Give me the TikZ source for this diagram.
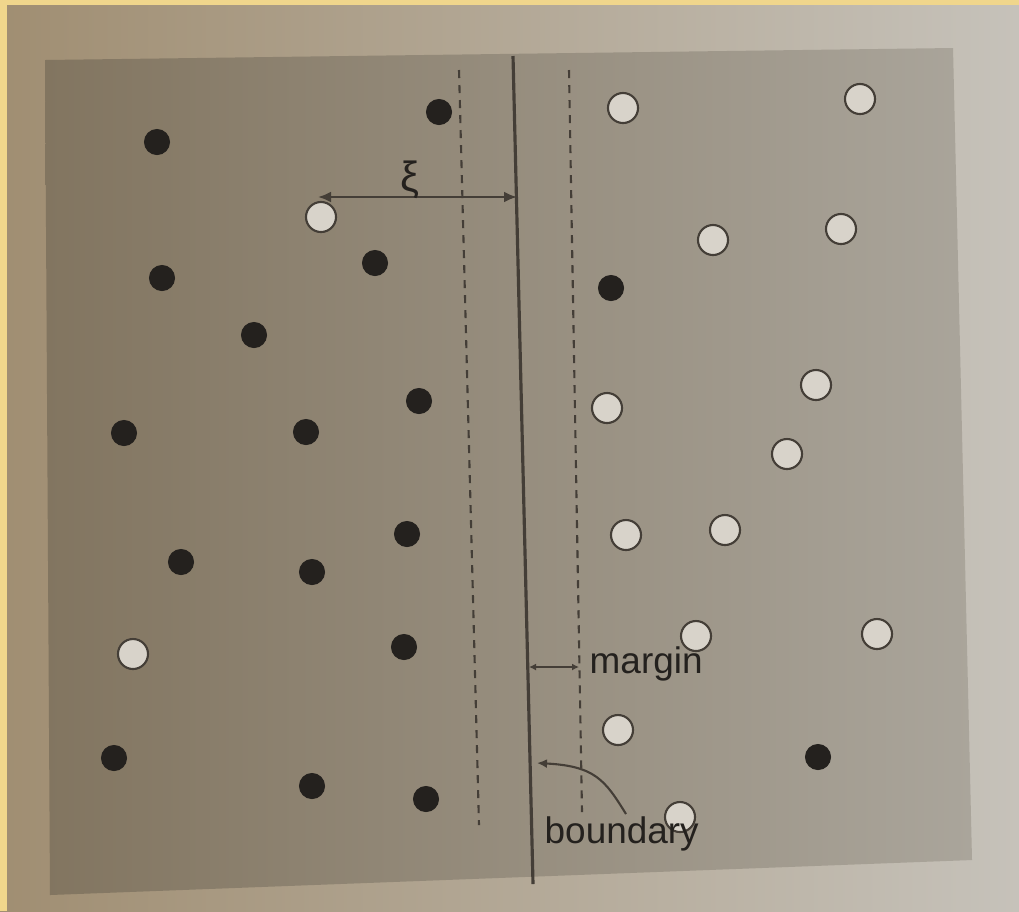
\documentclass[tikz,border=0pt]{standalone}
\usepackage{fontspec}
\setmainfont{Liberation Sans}
\usetikzlibrary{arrows.meta}
\definecolor{pageL}{RGB}{160,142,114}
\definecolor{pageR}{RGB}{198,194,186}
\definecolor{grayL}{RGB}{130,117,96}
\definecolor{grayM}{RGB}{154,146,132}
\definecolor{grayR}{RGB}{170,165,155}
\definecolor{frameY}{RGB}{240,214,140}
\definecolor{ink}{RGB}{36,33,30}
\definecolor{lineink}{RGB}{68,62,55}
\definecolor{hollow}{RGB}{216,211,202}
\begin{document}
\begin{tikzpicture}[x=0.01cm,y=-0.01cm,
  posdot/.style={circle,fill=ink,draw=ink,line width=0.3pt,minimum size=2.5mm,inner sep=0pt},
  negdot/.style={circle,fill=hollow,draw=lineink,line width=0.6pt,minimum size=3.0mm,inner sep=0pt},
  bound/.style={draw=lineink,line width=0.9pt},
  marg/.style={draw=lineink,line width=0.6pt,dash pattern=on 0.8mm off 0.7mm},
  dimarrow/.style={draw=lineink,line width=0.7pt,{Latex[length=1.3mm,width=1.1mm]}-{Latex[length=1.3mm,width=1.1mm]}},
  smallarrow/.style={draw=lineink,line width=0.5pt,{Latex[length=0.7mm,width=0.7mm]}-{Latex[length=0.7mm,width=0.7mm]}},
  pointer/.style={draw=lineink,line width=0.6pt,-{Latex[length=1.0mm,width=0.9mm]}},
  lbl/.style={text=ink,font=\fontsize{10.5pt}{12pt}\selectfont,inner sep=0pt}]
\useasboundingbox (0,0) rectangle (1019,911);
% page and frame
\shade[left color=pageL,right color=pageR] (0,0) rectangle (1019,911);
\fill[frameY] (0,0) rectangle (7,911);
\fill[frameY] (0,0) rectangle (1019,5);
% gray panel
\shade[left color=grayL,middle color=grayM,right color=grayR]
  (45,60) -- (953,48) -- (972,860) -- (50,895) -- cycle;
% margin lines and boundary
\draw[marg] (459,70) -- (479,825);
\draw[marg] (569,70) -- (582,812);
\draw[bound] (513,56) -- (533,884);
% black points
\foreach \n/\x/\y in {b1/157/142, b2/439/112, b3/375/263, b4/162/278, b5/254/335,
  b6/124/433, b7/306/432, b8/419/401, b9/181/562, b10/312/572, b11/407/534,
  b12/404/647, b13/114/758, b14/312/786, b15/426/799, b16/611/288, b17/818/757}
  \node[posdot] (\n) at (\x,\y) {};
% white points
\foreach \n/\x/\y in {w1/321/217, w2/133/654, w3/623/108, w4/860/99, w5/713/240,
  w6/841/229, w7/607/408, w8/816/385, w9/787/454, w10/626/535, w11/725/530,
  w12/696/636, w13/877/634, w14/618/730, w15/680/817}
  \node[negdot] (\n) at (\x,\y) {};
% xi arrow
\coordinate (xiL) at (318,197);
\coordinate (xiR) at (517,197);
\draw[dimarrow] (xiL) -- (xiR);
\node[lbl,font=\fontsize{12pt}{14pt}\selectfont] (xi) at (410,180) {ξ};
% margin arrow
\coordinate (mL) at (529,667);
\coordinate (mR) at (579,667);
\draw[smallarrow] (mL) -- (mR);
\node[lbl,anchor=base west] (margin) at (589,673) {margin};
% boundary label
\node[lbl,anchor=base west] (boundary) at (544,843) {boundary};
\coordinate (bT) at (537,763);
\coordinate (bS) at (626,814);
\draw[pointer] (bS) .. controls (605,780) and (595,766) .. (bT);
\end{tikzpicture}
\end{document}
